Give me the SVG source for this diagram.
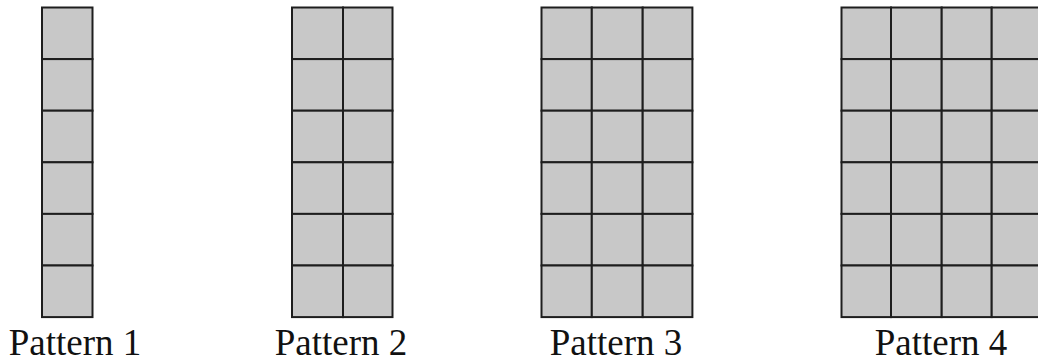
<svg xmlns="http://www.w3.org/2000/svg" width="1038" height="363" viewBox="0 0 1038 363">
<defs>
<style>
.cell{fill:#c8c8c8;stroke:#1e1e1e;stroke-width:2}
.lbl{font-family:"Liberation Serif","Times New Roman",serif;font-size:37px;fill:#111;text-anchor:middle}
</style>
<pattern id="g" x="0" y="7.5" width="50.5" height="51.6" patternUnits="userSpaceOnUse"><rect width="50.5" height="51.6" fill="#c8c8c8"/></pattern>
</defs>
<rect width="1038" height="363" fill="#fff"/>
<g id="pattern1">
<rect class="cell" x="42" y="7.5" width="50.5" height="51.6"/>
<rect class="cell" x="42" y="59.1" width="50.5" height="51.6"/>
<rect class="cell" x="42" y="110.7" width="50.5" height="51.6"/>
<rect class="cell" x="42" y="162.3" width="50.5" height="51.6"/>
<rect class="cell" x="42" y="213.9" width="50.5" height="51.6"/>
<rect class="cell" x="42" y="265.5" width="50.5" height="51.6"/>
<text class="lbl" x="75" y="355">Pattern 1</text>
</g>
<g id="pattern2">
<rect class="cell" x="292" y="7.5" width="51" height="51.6"/><rect class="cell" x="343" y="7.5" width="49.5" height="51.6"/>
<rect class="cell" x="292" y="59.1" width="51" height="51.6"/><rect class="cell" x="343" y="59.1" width="49.5" height="51.6"/>
<rect class="cell" x="292" y="110.7" width="51" height="51.6"/><rect class="cell" x="343" y="110.7" width="49.5" height="51.6"/>
<rect class="cell" x="292" y="162.3" width="51" height="51.6"/><rect class="cell" x="343" y="162.3" width="49.5" height="51.6"/>
<rect class="cell" x="292" y="213.9" width="51" height="51.6"/><rect class="cell" x="343" y="213.9" width="49.5" height="51.6"/>
<rect class="cell" x="292" y="265.5" width="51" height="51.6"/><rect class="cell" x="343" y="265.5" width="49.5" height="51.6"/>
<text class="lbl" x="341" y="355">Pattern 2</text>
</g>
<g id="pattern3">
<rect class="cell" x="541.5" y="7.5" width="50.3" height="51.6"/><rect class="cell" x="591.8" y="7.5" width="50.9" height="51.6"/><rect class="cell" x="642.7" y="7.5" width="49.7" height="51.6"/>
<rect class="cell" x="541.5" y="59.1" width="50.3" height="51.6"/><rect class="cell" x="591.8" y="59.1" width="50.9" height="51.6"/><rect class="cell" x="642.7" y="59.1" width="49.7" height="51.6"/>
<rect class="cell" x="541.5" y="110.7" width="50.3" height="51.6"/><rect class="cell" x="591.8" y="110.7" width="50.9" height="51.6"/><rect class="cell" x="642.7" y="110.7" width="49.7" height="51.6"/>
<rect class="cell" x="541.5" y="162.3" width="50.3" height="51.6"/><rect class="cell" x="591.8" y="162.3" width="50.9" height="51.6"/><rect class="cell" x="642.7" y="162.3" width="49.7" height="51.6"/>
<rect class="cell" x="541.5" y="213.9" width="50.3" height="51.6"/><rect class="cell" x="591.8" y="213.9" width="50.9" height="51.6"/><rect class="cell" x="642.7" y="213.9" width="49.7" height="51.6"/>
<rect class="cell" x="541.5" y="265.5" width="50.3" height="51.6"/><rect class="cell" x="591.8" y="265.5" width="50.9" height="51.6"/><rect class="cell" x="642.7" y="265.5" width="49.7" height="51.6"/>
<text class="lbl" x="616" y="355">Pattern 3</text>
</g>
<g id="pattern4">
<rect class="cell" x="841.5" y="7.5" width="49.5" height="51.6"/><rect class="cell" x="891" y="7.5" width="50.7" height="51.6"/><rect class="cell" x="941.7" y="7.5" width="50" height="51.6"/><rect class="cell" x="991.7" y="7.5" width="50" height="51.6"/>
<rect class="cell" x="841.5" y="59.1" width="49.5" height="51.6"/><rect class="cell" x="891" y="59.1" width="50.7" height="51.6"/><rect class="cell" x="941.7" y="59.1" width="50" height="51.6"/><rect class="cell" x="991.7" y="59.1" width="50" height="51.6"/>
<rect class="cell" x="841.5" y="110.7" width="49.5" height="51.6"/><rect class="cell" x="891" y="110.7" width="50.7" height="51.6"/><rect class="cell" x="941.7" y="110.7" width="50" height="51.6"/><rect class="cell" x="991.7" y="110.7" width="50" height="51.6"/>
<rect class="cell" x="841.5" y="162.3" width="49.5" height="51.6"/><rect class="cell" x="891" y="162.3" width="50.7" height="51.6"/><rect class="cell" x="941.7" y="162.3" width="50" height="51.6"/><rect class="cell" x="991.7" y="162.3" width="50" height="51.6"/>
<rect class="cell" x="841.5" y="213.9" width="49.5" height="51.6"/><rect class="cell" x="891" y="213.9" width="50.7" height="51.6"/><rect class="cell" x="941.7" y="213.9" width="50" height="51.6"/><rect class="cell" x="991.7" y="213.9" width="50" height="51.6"/>
<rect class="cell" x="841.5" y="265.5" width="49.5" height="51.6"/><rect class="cell" x="891" y="265.5" width="50.7" height="51.6"/><rect class="cell" x="941.7" y="265.5" width="50" height="51.6"/><rect class="cell" x="991.7" y="265.5" width="50" height="51.6"/>
<text class="lbl" x="941" y="355">Pattern 4</text>
</g>
<g id="connectors"/>
</svg>
